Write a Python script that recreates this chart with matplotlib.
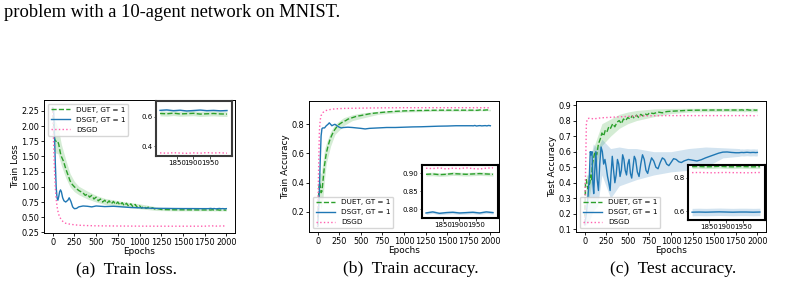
import numpy as np
import matplotlib
matplotlib.use("Agg")
import matplotlib.pyplot as plt

plt.rcParams['font.family'] = ['DejaVu Sans']

# ---------------- data ----------------
labels = ["DUET, GT = 1", "DSGT, GT = 1", "DSGD"]
captions = ["(a)  Train loss.", "(b)  Train accuracy.", "(c)  Test accuracy."]
ylabels = ["Train Loss", "Train Accuracy", "Test Accuracy"]
xticks = [0, 250, 500, 750, 1000, 1250, 1500, 1750, 2000]
zoom_xticks = [1850, 1900, 1950]

# zoomed tail (shared epochs for the insets)
z_ep = [1800, 1820, 1840, 1860, 1880, 1900, 1920, 1940, 1960, 1980, 2000]

# ---- (a) train loss ----
a_ep_duet = [0, 10, 20, 30, 40, 50, 60, 70, 80, 90, 100,
             125, 150, 175, 200, 225, 250, 275, 300, 325, 350, 375, 400, 425, 450,
             475, 500, 525, 550, 575, 600, 625, 650, 675, 700, 725, 750, 775, 800,
             825, 850, 875, 900, 925, 950, 975, 1000, 1025, 1050, 1075, 1100, 1125,
             1150, 1175, 1200, 1250, 1300, 1400, 1500, 1600, 1700, 1790]
a_duet = [2.30, 2.05, 1.80, 1.76, 1.75, 1.76, 1.74, 1.70, 1.62, 1.55, 1.50,
          1.42, 1.30, 1.20, 1.10, 1.04, 1.00, 0.97, 0.94, 0.92, 0.90, 0.86, 0.88, 0.83, 0.86,
          0.80, 0.83, 0.77, 0.80, 0.75, 0.78, 0.73, 0.77, 0.72, 0.76, 0.71, 0.75, 0.70, 0.74,
          0.69, 0.73, 0.68, 0.72, 0.67, 0.71, 0.66, 0.69, 0.65, 0.68, 0.645, 0.665, 0.64,
          0.655, 0.635, 0.645, 0.628, 0.625, 0.622, 0.622, 0.621, 0.62, 0.62]
a_band_ep = [0, 20, 40, 60, 80, 100, 150, 200, 250, 300, 400, 500, 600, 800, 1000, 1200, 1400, 1790]
a_duet_lo = [2.25, 1.60, 1.55, 1.55, 1.45, 1.35, 1.15, 1.00, 0.92, 0.87, 0.80, 0.75, 0.71, 0.67, 0.64, 0.61, 0.605, 0.605]
a_duet_hi = [2.33, 2.10, 2.05, 1.98, 1.85, 1.70, 1.45, 1.22, 1.09, 1.01, 0.93, 0.86, 0.81, 0.76, 0.72, 0.67, 0.64, 0.636]
a_ep_dsgt = [0, 10, 20, 30, 40, 50, 60, 70, 80, 90, 100, 115, 130, 150, 175, 190, 210, 230,
             250, 275, 300, 350, 400, 450, 500, 600, 700, 800, 900, 1000, 1100, 1200, 1300,
             1400, 1500, 1600, 1700, 1790]
a_dsgt = [2.30, 2.28, 1.90, 1.40, 1.00, 0.82, 0.78, 0.84, 0.92, 0.95, 0.92, 0.82, 0.77, 0.75,
          0.78, 0.82, 0.76, 0.67, 0.64, 0.645, 0.67, 0.685, 0.68, 0.67, 0.685, 0.675, 0.68,
          0.67, 0.66, 0.655, 0.65, 0.645, 0.645, 0.643, 0.642, 0.642, 0.641, 0.641]
a_ep_dsgd = [0, 10, 20, 30, 40, 50, 60, 75, 100, 125, 150, 200, 250, 300, 400, 500, 750,
             1000, 1250, 1500, 1750]
a_dsgd = [2.30, 1.75, 1.30, 1.00, 0.80, 0.68, 0.60, 0.52, 0.455, 0.42, 0.40, 0.385, 0.375,
          0.368, 0.362, 0.358, 0.355, 0.353, 0.352, 0.352, 0.352]
a_z_duet = [0.621, 0.619, 0.623, 0.618, 0.620, 0.622, 0.617, 0.619, 0.621, 0.618, 0.617]
a_z_duet_lo = [0.605, 0.603, 0.607, 0.602, 0.604, 0.606, 0.601, 0.603, 0.605, 0.602, 0.601]
a_z_duet_hi = [0.637, 0.635, 0.639, 0.634, 0.636, 0.638, 0.633, 0.635, 0.637, 0.634, 0.633]
a_z_dsgt = [0.642, 0.645, 0.640, 0.643, 0.638, 0.641, 0.644, 0.640, 0.642, 0.639, 0.641]
a_z_dsgt_lo = [0.636, 0.639, 0.634, 0.637, 0.632, 0.635, 0.638, 0.634, 0.636, 0.633, 0.635]
a_z_dsgt_hi = [0.648, 0.651, 0.646, 0.649, 0.644, 0.647, 0.650, 0.646, 0.648, 0.645, 0.647]
a_z_dsgd = [0.356, 0.354, 0.357, 0.355, 0.353, 0.356, 0.354, 0.358, 0.355, 0.357, 0.354]
a_yticks = [0.25, 0.50, 0.75, 1.00, 1.25, 1.50, 1.75, 2.00, 2.25]
a_zoom_yticks = [0.4, 0.6]

# ---- (b) train accuracy ----
b_ep_duet = [0, 10, 20, 30, 40, 50, 60, 70, 80, 90, 100, 120, 140, 160, 180, 200,
             225, 250, 275, 300, 325, 350, 375, 400, 450, 500, 550, 600, 650, 700, 750,
             800, 900, 1000, 1100, 1200, 1300, 1400, 1500, 1600, 1700, 1790]
b_duet = [0.10, 0.30, 0.40, 0.38, 0.33, 0.34, 0.40, 0.46, 0.52, 0.56, 0.60, 0.65, 0.69,
          0.72, 0.745, 0.765, 0.785, 0.80, 0.81, 0.82, 0.825, 0.835, 0.84, 0.845, 0.855, 0.86,
          0.866, 0.872, 0.876, 0.879, 0.882, 0.885, 0.889, 0.892, 0.894, 0.895, 0.896, 0.897,
          0.897, 0.897, 0.897, 0.897]
b_band_ep = [0, 20, 40, 60, 80, 100, 150, 200, 300, 400, 500, 700, 1000, 1400, 1790]
b_duet_lo = [0.10, 0.28, 0.22, 0.28, 0.42, 0.53, 0.65, 0.73, 0.79, 0.825, 0.84, 0.868, 0.884, 0.89, 0.891]
b_duet_hi = [0.10, 0.47, 0.46, 0.54, 0.63, 0.67, 0.75, 0.80, 0.845, 0.865, 0.877, 0.89, 0.899, 0.903, 0.903]
b_ep_dsgt = [0, 10, 20, 30, 40, 50, 60, 80, 100, 120, 135, 150, 165, 180, 200, 225, 250,
             275, 300, 350, 400, 450, 500, 550, 600, 700, 800, 900, 1000, 1100, 1200, 1300,
             1400, 1500, 1600, 1700, 1790]
b_dsgt = [0.10, 0.20, 0.35, 0.55, 0.72, 0.77, 0.775, 0.775, 0.79, 0.80, 0.81, 0.80, 0.79,
          0.795, 0.80, 0.79, 0.78, 0.775, 0.778, 0.78, 0.778, 0.775, 0.772, 0.768, 0.772,
          0.775, 0.778, 0.778, 0.78, 0.782, 0.783, 0.785, 0.787, 0.788, 0.79, 0.79, 0.79]
b_ep_dsgd = [0, 10, 20, 30, 40, 60, 80, 100, 150, 200, 300, 500, 750, 1000, 1250, 1500, 1790]
b_dsgd = [0.10, 0.45, 0.75, 0.83, 0.86, 0.88, 0.89, 0.895, 0.902, 0.906, 0.909, 0.911,
          0.913, 0.914, 0.914, 0.914, 0.914]
b_z_duet = [0.897, 0.898, 0.896, 0.897, 0.899, 0.898, 0.897, 0.898, 0.899, 0.898, 0.897]
b_z_duet_lo = [0.892, 0.893, 0.891, 0.892, 0.894, 0.893, 0.892, 0.893, 0.894, 0.893, 0.892]
b_z_duet_hi = [0.902, 0.903, 0.901, 0.902, 0.904, 0.903, 0.902, 0.903, 0.904, 0.903, 0.902]
b_z_dsgt = [0.789, 0.792, 0.788, 0.790, 0.791, 0.789, 0.790, 0.791, 0.789, 0.792, 0.790]
b_z_dsgt_lo = [0.785, 0.788, 0.784, 0.786, 0.787, 0.785, 0.786, 0.787, 0.785, 0.788, 0.786]
b_z_dsgt_hi = [0.793, 0.796, 0.792, 0.794, 0.795, 0.793, 0.794, 0.795, 0.793, 0.796, 0.794]
b_z_dsgd = [0.914, 0.913, 0.915, 0.912, 0.914, 0.913, 0.915, 0.913, 0.912, 0.914, 0.915]
b_yticks = [0.2, 0.4, 0.6, 0.8]
b_zoom_yticks = [0.80, 0.85, 0.90]

# ---- (c) test accuracy ----
c_ep_duet = [0, 10, 20, 30, 40, 50, 60, 70, 80, 90, 100, 120, 140, 160, 180, 200, 220,
             240, 260, 280, 300, 325, 350, 375, 400, 425, 450, 475, 500, 525, 550, 575,
             600, 625, 650, 675, 700, 725, 750, 800, 850, 900, 950, 1000, 1100, 1200,
             1300, 1500, 1790]
c_duet = [0.13, 0.40, 0.42, 0.38, 0.36, 0.38, 0.40, 0.45, 0.42, 0.52, 0.55, 0.60, 0.58,
          0.65, 0.68, 0.72, 0.70, 0.74, 0.73, 0.76, 0.75, 0.78, 0.76, 0.79, 0.80, 0.78,
          0.81, 0.80, 0.82, 0.81, 0.83, 0.815, 0.835, 0.82, 0.84, 0.83, 0.845, 0.835, 0.85,
          0.845, 0.855, 0.85, 0.858, 0.86, 0.863, 0.866, 0.867, 0.868, 0.868]
c_band_ep = [0, 20, 50, 100, 150, 200, 300, 400, 500, 600, 800, 1000, 1200, 1500, 1790]
c_duet_lo = [0.13, 0.33, 0.30, 0.45, 0.55, 0.64, 0.70, 0.75, 0.78, 0.80, 0.825, 0.845, 0.855, 0.858, 0.858]
c_duet_hi = [0.13, 0.45, 0.45, 0.62, 0.70, 0.78, 0.81, 0.84, 0.855, 0.865, 0.875, 0.878, 0.879, 0.879, 0.879]
c_ep_dsgt = [0, 20, 40, 55, 65, 75, 85, 95, 105, 115, 130, 145, 160, 175, 190, 205, 220,
             235, 250, 265, 280, 295, 305, 320, 335, 350, 365, 380, 395, 410, 425, 440,
             455, 470, 485, 500, 515, 530, 545, 560, 575, 590, 610, 630, 650, 670, 690,
             710, 730, 750, 775, 800, 825, 850, 875, 900, 925, 950, 975, 1000, 1030, 1060,
             1090, 1120, 1150, 1200, 1250, 1300, 1350, 1400, 1450, 1500, 1550, 1600, 1650,
             1700, 1750, 1790]
c_dsgt = [0.13, 0.20, 0.32, 0.45, 0.60, 0.58, 0.60, 0.40, 0.33, 0.45, 0.60, 0.42, 0.35,
          0.52, 0.63, 0.60, 0.52, 0.55, 0.50, 0.44, 0.40, 0.35, 0.45, 0.57, 0.48, 0.40,
          0.45, 0.55, 0.52, 0.44, 0.48, 0.58, 0.55, 0.48, 0.45, 0.52, 0.55, 0.46, 0.43,
          0.50, 0.57, 0.55, 0.47, 0.44, 0.52, 0.58, 0.55, 0.48, 0.46, 0.51, 0.56, 0.54,
          0.50, 0.49, 0.53, 0.56, 0.55, 0.52, 0.51, 0.53, 0.555, 0.55, 0.535, 0.53, 0.54,
          0.55, 0.545, 0.54, 0.548, 0.56, 0.57, 0.58, 0.59, 0.597, 0.598, 0.595, 0.593, 0.593]
c_band2_ep = [0, 50, 100, 150, 200, 300, 400, 500, 600, 800, 1000, 1200, 1400, 1600, 1790]
c_dsgt_lo = [0.12, 0.15, 0.22, 0.25, 0.45, 0.30, 0.38, 0.40, 0.42, 0.45, 0.47, 0.48, 0.50, 0.56, 0.57]
c_dsgt_hi = [0.14, 0.50, 0.65, 0.62, 0.68, 0.62, 0.63, 0.62, 0.62, 0.60, 0.60, 0.62, 0.63, 0.625, 0.62]
c_ep_dsgd = [0, 10, 20, 30, 50, 75, 100, 150, 200, 300, 400, 500, 600, 750, 1000, 1250, 1500, 1790]
c_dsgd = [0.13, 0.45, 0.78, 0.81, 0.815, 0.815, 0.81, 0.815, 0.818, 0.821, 0.824, 0.827,
          0.829, 0.831, 0.832, 0.832, 0.832, 0.832]
c_z_duet = [0.868, 0.869, 0.867, 0.868, 0.870, 0.868, 0.867, 0.869, 0.868, 0.867, 0.868]
c_z_duet_lo = [0.857, 0.858, 0.856, 0.857, 0.859, 0.857, 0.856, 0.858, 0.857, 0.856, 0.857]
c_z_duet_hi = [0.879, 0.880, 0.878, 0.879, 0.881, 0.879, 0.878, 0.880, 0.879, 0.878, 0.879]
c_z_dsgt = [0.594, 0.595, 0.594, 0.595, 0.596, 0.595, 0.594, 0.595, 0.595, 0.594, 0.595]
c_z_dsgt_lo = [0.572, 0.573, 0.572, 0.573, 0.574, 0.573, 0.572, 0.573, 0.573, 0.572, 0.573]
c_z_dsgt_hi = [0.617, 0.618, 0.617, 0.618, 0.619, 0.618, 0.617, 0.618, 0.618, 0.617, 0.618]
c_z_dsgd = [0.832, 0.833, 0.832, 0.831, 0.832, 0.833, 0.832, 0.832, 0.831, 0.832, 0.833]
c_yticks = [0.1, 0.2, 0.3, 0.4, 0.5, 0.6, 0.7, 0.8, 0.9]
c_zoom_yticks = [0.6, 0.8]

# ---------------- style ----------------
C_DUET = '#2ca02c'
C_DSGT = '#1f77b4'
C_DSGD = '#ff5fae'
W, H = 800, 284
TICK_FS = 5.85
ZTICK_FS = 5.0
fig = plt.figure(figsize=(W / 100, H / 100), dpi=100)


def px_axes(x0, y0, x1, y1):
    return fig.add_axes([x0 / W, 1 - y1 / H, (x1 - x0) / W, (y1 - y0) / H])


def cat(a, b):
    return np.concatenate([np.asarray(a, float), np.asarray(b, float)])


def draw_main(ax, d, ylim, yticks, ylabel, legloc):
    ax.fill_between(cat(d['band_ep'], z_ep), cat(d['duet_lo'], d['z_duet_lo']),
                    cat(d['duet_hi'], d['z_duet_hi']), color=C_DUET, alpha=0.2, lw=0)
    if 'dsgt_band_ep' in d:
        ax.fill_between(cat(d['dsgt_band_ep'], z_ep), cat(d['dsgt_lo'], d['z_dsgt_lo']),
                        cat(d['dsgt_hi'], d['z_dsgt_hi']), color=C_DSGT, alpha=0.2, lw=0)
    ax.plot(cat(d['ep_duet'], z_ep), cat(d['duet'], d['z_duet']), '--', color=C_DUET,
            lw=1.0, label=labels[0])
    ax.plot(cat(d['ep_dsgt'], z_ep), cat(d['dsgt'], d['z_dsgt']), '-', color=C_DSGT,
            lw=1.0, label=labels[1])
    ax.plot(cat(d['ep_dsgd'], z_ep), cat(d['dsgd'], d['z_dsgd']), ':', color=C_DSGD,
            lw=1.0, label=labels[2])
    ax.set_xlim(-100, 2100)
    ax.set_ylim(*ylim)
    ax.set_xticks(xticks)
    ax.set_yticks(yticks)
    ax.tick_params(labelsize=TICK_FS, length=2.2, width=0.6, pad=1.2)
    ax.set_xlabel('Epochs', fontsize=6.4, labelpad=0.5)
    ax.set_ylabel(ylabel, fontsize=6.4, labelpad=1)
    for s in ax.spines.values():
        s.set_linewidth(0.7)
    ax.legend(loc=legloc, fontsize=5.2, handlelength=2.7, borderpad=0.4,
              labelspacing=0.55, handletextpad=0.8, borderaxespad=0.5,
              fancybox=True, framealpha=0.8)


def draw_zoom(ax, d, xlim, ylim, yticks, edge):
    ax.fill_between(z_ep, d['z_duet_lo'], d['z_duet_hi'], color=C_DUET, alpha=0.2, lw=0)
    ax.fill_between(z_ep, d['z_dsgt_lo'], d['z_dsgt_hi'], color=C_DSGT, alpha=0.2, lw=0)
    ax.plot(z_ep, d['z_duet'], '--', color=C_DUET, lw=1.0)
    ax.plot(z_ep, d['z_dsgt'], '-', color=C_DSGT, lw=1.0)
    ax.plot(z_ep, d['z_dsgd'], ':', color=C_DSGD, lw=1.0)
    ax.set_xlim(*xlim)
    ax.set_ylim(*ylim)
    ax.set_xticks(zoom_xticks)
    ax.set_yticks(yticks)
    ax.tick_params(labelsize=ZTICK_FS, length=1.8, width=0.5, pad=0.8)
    for s in ax.spines.values():
        s.set_linewidth(1.5)
        s.set_edgecolor(edge)


A = dict(ep_duet=a_ep_duet, duet=a_duet, band_ep=a_band_ep, duet_lo=a_duet_lo, duet_hi=a_duet_hi,
         ep_dsgt=a_ep_dsgt, dsgt=a_dsgt, ep_dsgd=a_ep_dsgd, dsgd=a_dsgd,
         z_duet=a_z_duet, z_duet_lo=a_z_duet_lo, z_duet_hi=a_z_duet_hi,
         z_dsgt=a_z_dsgt, z_dsgt_lo=a_z_dsgt_lo, z_dsgt_hi=a_z_dsgt_hi, z_dsgd=a_z_dsgd)
B = dict(ep_duet=b_ep_duet, duet=b_duet, band_ep=b_band_ep, duet_lo=b_duet_lo, duet_hi=b_duet_hi,
         ep_dsgt=b_ep_dsgt, dsgt=b_dsgt, ep_dsgd=b_ep_dsgd, dsgd=b_dsgd,
         z_duet=b_z_duet, z_duet_lo=b_z_duet_lo, z_duet_hi=b_z_duet_hi,
         z_dsgt=b_z_dsgt, z_dsgt_lo=b_z_dsgt_lo, z_dsgt_hi=b_z_dsgt_hi, z_dsgd=b_z_dsgd)
C = dict(ep_duet=c_ep_duet, duet=c_duet, band_ep=c_band_ep, duet_lo=c_duet_lo, duet_hi=c_duet_hi,
         ep_dsgt=c_ep_dsgt, dsgt=c_dsgt, ep_dsgd=c_ep_dsgd, dsgd=c_dsgd,
         dsgt_band_ep=c_band2_ep, dsgt_lo=c_dsgt_lo, dsgt_hi=c_dsgt_hi,
         z_duet=c_z_duet, z_duet_lo=c_z_duet_lo, z_duet_hi=c_z_duet_hi,
         z_dsgt=c_z_dsgt, z_dsgt_lo=c_z_dsgt_lo, z_dsgt_hi=c_z_dsgt_hi, z_dsgd=c_z_dsgd)

ax_a = px_axes(44, 100, 235, 233)
draw_main(ax_a, A, (0.24, 2.43), a_yticks, ylabels[0], 'upper left')
ax_b = px_axes(309, 101, 499, 232)
draw_main(ax_b, B, (0.06, 0.96), b_yticks, ylabels[1], 'lower left')
ax_c = px_axes(576, 101, 766, 232)
draw_main(ax_c, C, (0.083, 0.926), c_yticks, ylabels[2], 'lower left')

zx = (1788, 2015)
in_a = px_axes(156, 101, 232, 156)
draw_zoom(in_a, A, zx, (0.335, 0.705), a_zoom_yticks, '#3a3a3a')
in_b = px_axes(422, 165, 498, 218)
draw_zoom(in_b, B, zx, (0.775, 0.923), b_zoom_yticks, 'black')
in_c = px_axes(688, 165, 765, 220)
draw_zoom(in_c, C, zx, (0.547, 0.878), c_zoom_yticks, 'black')

serif = ['Liberation Serif', 'DejaVu Serif']
fig.text(4 / W, 1 - 17 / H, 'problem with a 10-agent network on MNIST.', family=serif,
         fontsize=13.3, ha='left', va='baseline')
for cx, cap in zip([126, 411, 673], captions):
    fig.text(cx / W, 1 - 273 / H, cap, family=serif, fontsize=12.6, ha='center', va='baseline')

fig.savefig('out.png', dpi=100)
